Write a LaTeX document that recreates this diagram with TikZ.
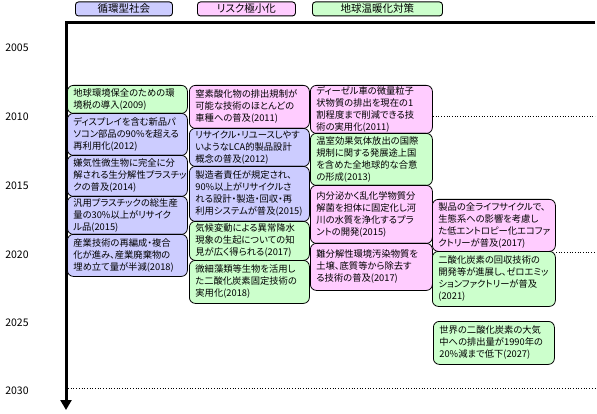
\documentclass[tikz,border=0pt]{standalone}
\usepackage{fontspec}
\setmainfont{Noto Sans CJK JP}[RawFeature={+palt}]
\usetikzlibrary{arrows.meta}
\definecolor{cblue}{RGB}{204,204,255}
\definecolor{cpink}{RGB}{255,204,255}
\definecolor{cgreen}{RGB}{204,255,204}
\tikzset{
  evbox/.style={draw=black, line width=0.8pt, rounded corners=6pt, anchor=north west,
    inner xsep=6pt, inner ysep=1pt, align=left,
    font=\fontsize{9.3}{12}\selectfont},
  bbox/.style={evbox, fill=cblue},
  pbox/.style={evbox, fill=cpink},
  gbox/.style={evbox, fill=cgreen},
  legbox/.style={draw=black, line width=0.9pt, rounded corners=3pt, anchor=north west,
    inner sep=0pt, font=\fontsize{10.5}{12}\selectfont},
  yearlab/.style={font=\fontsize{10.5}{12}\selectfont, inner sep=0pt},
  axisline/.style={line width=3pt},
  guide/.style={line width=0.7pt, dotted}
}
\begin{document}
\begin{tikzpicture}[x=1pt,y=-1pt]
\useasboundingbox (0,0) rectangle (597,414);
% legend
\node[legbox, fill=cblue, minimum width=97pt, minimum height=14pt] (lg1) at (75,1.5) {循環型社会};
\node[legbox, fill=cpink, minimum width=98pt, minimum height=14pt] (lg2) at (197,1.5) {リスク極小化};
\node[legbox, fill=cgreen, minimum width=130pt, minimum height=14pt] (lg3) at (312,1.5) {地球温暖化対策};
% axes
\coordinate (tr) at (595,23);
\coordinate (tl) at (66,23);
\coordinate (bt) at (66,410);
\draw[axisline, line join=miter, -{Triangle[length=10pt,width=11pt]}] (tr) -- (tl) -- (bt);
% years
\node[yearlab] (y05) at (17,48) {2005};
\node[yearlab] (y10) at (17,117) {2010};
\node[yearlab] (y15) at (17,186) {2015};
\node[yearlab] (y20) at (17,255) {2020};
\node[yearlab] (y25) at (17,323) {2025};
\node[yearlab] (y30) at (17,391) {2030};
% column 1
\node[gbox, minimum width=120pt, minimum height=28pt, text width=108pt] (c1a) at (67,85) {地球環境保全のための環\\境税の導入(2009)};
\node[bbox, minimum width=120pt, minimum height=42pt, text width=108pt] (c1b) at (67,113) {ディスプレイを含む新品パ\\ソコン部品の90\%を超える\\再利用化(2012)};
\node[bbox, minimum width=120pt, minimum height=41pt, text width=108pt] (c1c) at (67,155) {嫌気性微生物に完全に分\\解される生分解性プラスチッ\\クの普及(2014)};
\node[bbox, minimum width=120pt, minimum height=38pt, text width=108pt] (c1d) at (67,196) {汎用プラスチックの総生産\\量の30\%以上がリサイク\\ル品(2015)};
\node[bbox, minimum width=120pt, minimum height=42pt, text width=108pt] (c1e) at (67,234) {産業技術の再編成・複合\\化が進み、産業廃棄物の\\埋め立て量が半減(2018)};
% column 2
\node[pbox, minimum width=120pt, minimum height=43pt, text width=108pt] (c2a) at (189,85) {窒素酸化物の排出規制が\\可能な技術のほとんどの\\車種への普及(2011)};
\node[bbox, minimum width=120pt, minimum height=38pt, text width=108pt] (c2b) at (189,128) {リサイクル・リユースしやす\\いようなLCA的製品設計\\概念の普及(2012)};
\node[bbox, minimum width=120pt, minimum height=55pt, text width=108pt] (c2c) at (189,166) {製造者責任が規定され、\\90\%以上がリサイクルさ\\れる設計・製造・回収・再\\利用システムが普及(2015)};
\node[gbox, minimum width=120pt, minimum height=39pt, text width=108pt] (c2d) at (189,221) {気候変動による異常降水\\現象の生起についての知\\見が広く得られる(2017)};
\node[gbox, minimum width=120pt, minimum height=43pt, text width=108pt] (c2e) at (189,260) {微細藻類等生物を活用し\\た二酸化炭素固定技術の\\実用化(2018)};
% column 3
\node[pbox, minimum width=122pt, minimum height=48pt, text width=110pt] (c3a) at (310,85) {ディーゼル車の微量粒子\\状物質の排出を現在の1\\割程度まで削減できる技\\術の実用化(2011)};
\node[gbox, minimum width=122pt, minimum height=52pt, text width=110pt] (c3b) at (310,133) {温室効果気体放出の国際\\規制に関する発展途上国\\を含めた全地球的な合意\\の形成(2013)};
\node[pbox, minimum width=122pt, minimum height=58pt, text width=110pt] (c3c) at (310,185) {内分泌かく乱化学物質分\\解菌を担体に固定化し河\\川の水質を浄化するプラ\\ントの開発(2015)};
\node[pbox, minimum width=122pt, minimum height=47pt, text width=110pt] (c3d) at (310,243) {難分解性環境汚染物質を\\土壌、底質等から除去す\\る技術の普及(2017)};
% column 4
\node[pbox, minimum width=123pt, minimum height=52pt, text width=111pt] (c4a) at (432,199) {製品の全ライフサイクルで、\\生態系への影響を考慮し\\た低エントロピー化エコファ\\クトリーが普及(2017)};
\node[gbox, minimum width=123pt, minimum height=55pt, text width=111pt] (c4b) at (432,251) {二酸化炭素の回収技術の\\開発等が進展し、ゼロエミッ\\ションファクトリーが普及\\(2021)};
\node[gbox, minimum width=121pt, minimum height=43pt, text width=109pt] (c4c) at (433,321) {世界の二酸化炭素の大気\\中への排出量が1990年の\\20\%減まで低下(2027)};
% dotted guides
\coordinate (g10a) at (433,116);
\coordinate (g10b) at (595,116);
\coordinate (g20a) at (556,252);
\coordinate (g20b) at (595,252);
\coordinate (g30a) at (68,388);
\coordinate (g30b) at (595,388);
\draw[guide] (g10a) -- (g10b);
\draw[guide] (g20a) -- (g20b);
\draw[guide] (g30a) -- (g30b);
\end{tikzpicture}
\end{document}
